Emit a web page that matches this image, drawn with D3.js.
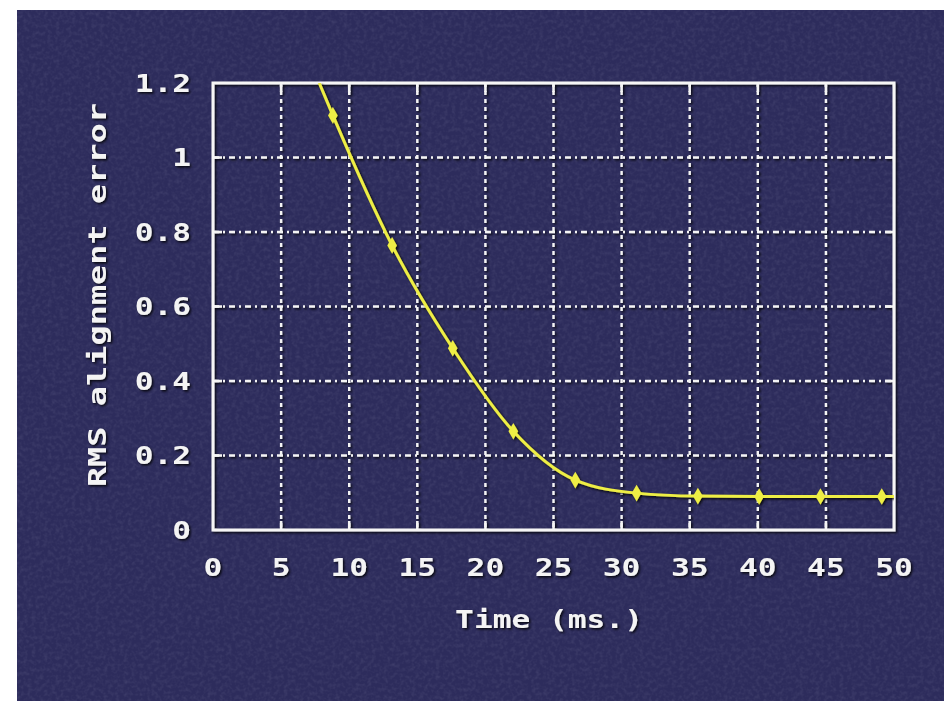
<!DOCTYPE html>
<html><head><meta charset="utf-8">
<script src="https://cdn.jsdelivr.net/npm/d3@7"></script>
<style>
html,body{margin:0;padding:0;background:#fff;}
svg{display:block;}
</style></head>
<body>
<script>
// ---- data ----
const xTicks = [0,5,10,15,20,25,30,35,40,45,50];
const yTicks = [0,0.2,0.4,0.6,0.8,1,1.2];
const yTickLabels = ["0","0.2","0.4","0.6","0.8","1","1.2"];
const xTickLabels = ["0","5","10","15","20","25","30","35","40","45","50"];
const markerX = [8.8,13.15,17.6,22.05,26.6,31.1,35.6,40.1,44.6,49.1];
const markerY = [1.113,0.764,0.488,0.265,0.134,0.099,0.091,0.09,0.09,0.09];
const lineX = [7.8,8.8,13.15,17.6,22.05,26.6,31.1,35.6,40.1,44.6,49.1,50];
const lineY = [1.2,1.113,0.764,0.488,0.265,0.134,0.099,0.091,0.09,0.09,0.09,0.09];
const xTitle = "Time (ms.)";
const yTitle = "RMS alignment error";

const W=944,H=701;
const svg=d3.select("body").append("svg").attr("width",W).attr("height",H);
const defs=svg.append("defs");
const sh=defs.append("filter").attr("id","sh").attr("x","-20%").attr("y","-20%").attr("width","140%").attr("height","140%");
sh.append("feDropShadow").attr("dx",1.5).attr("dy",1.5).attr("stdDeviation",0.8).attr("flood-color","#000").attr("flood-opacity",0.85);
const tex=defs.append("filter").attr("id","tex").attr("x",0).attr("y",0).attr("width","100%").attr("height","100%");
tex.append("feTurbulence").attr("type","fractalNoise").attr("baseFrequency",0.25).attr("numOctaves",2).attr("seed",5).attr("result","n");
tex.append("feColorMatrix").attr("in","n").attr("type","matrix")
  .attr("values","0 0 0 0 0.5  0 0 0 0 0.5  0 0 0 0 0.65  1 0 0 0 -0.4").attr("result","c");
tex.append("feComposite").attr("in","c").attr("in2","SourceGraphic").attr("operator","in");
const clip=defs.append("clipPath").attr("id","plotclip");

// background
svg.append("rect").attr("x",17).attr("y",10).attr("width",W-17).attr("height",H-10).attr("fill","#2d2c5c");
svg.append("rect").attr("x",17).attr("y",10).attr("width",W-17).attr("height",H-10).attr("fill","#2d2c5c").attr("filter","url(#tex)").attr("opacity",0.22);

const x=d3.scaleLinear().domain([0,50]).range([213,894]);
const y=d3.scaleLinear().domain([0,1.2]).range([530,83]);
clip.append("rect").attr("x",x(0)).attr("y",y(1.2)).attr("width",x(50)-x(0)).attr("height",y(0)-y(1.2));

const g=svg.append("g").attr("filter","url(#sh)");
// grid
g.selectAll(".vg").data(xTicks.slice(1,-1)).join("line")
  .attr("x1",d=>x(d)).attr("x2",d=>x(d)).attr("y1",y(1.2)).attr("y2",y(0))
  .attr("stroke","#f4f4f4").attr("stroke-width",2.4).attr("stroke-dasharray","4,4");
g.selectAll(".hg").data(yTicks.slice(1,-1)).join("line")
  .attr("y1",d=>y(d)).attr("y2",d=>y(d)).attr("x1",x(0)).attr("x2",x(50))
  .attr("stroke","#f4f4f4").attr("stroke-width",2.4).attr("stroke-dasharray","6,4,2,4");
// inner ticks
const tl=9;
xTicks.slice(1,-1).forEach(d=>{
  g.append("line").attr("x1",x(d)).attr("x2",x(d)).attr("y1",y(0)).attr("y2",y(0)-tl).attr("stroke","#f4f4f4").attr("stroke-width",2.5);
  g.append("line").attr("x1",x(d)).attr("x2",x(d)).attr("y1",y(1.2)).attr("y2",y(1.2)+tl).attr("stroke","#f4f4f4").attr("stroke-width",2.5);
});
yTicks.slice(1,-1).forEach(d=>{
  g.append("line").attr("y1",y(d)).attr("y2",y(d)).attr("x1",x(0)).attr("x2",x(0)+tl).attr("stroke","#f4f4f4").attr("stroke-width",2.5);
  g.append("line").attr("y1",y(d)).attr("y2",y(d)).attr("x1",x(50)).attr("x2",x(50)-tl).attr("stroke","#f4f4f4").attr("stroke-width",2.5);
});
// frame
g.append("rect").attr("x",x(0)).attr("y",y(1.2)).attr("width",x(50)-x(0)).attr("height",y(0)-y(1.2))
  .attr("fill","none").attr("stroke","#f6f6f6").attr("stroke-width",3);

// line
const pts=lineX.map((v,i)=>[v,lineY[i]]);
const lg=svg.append("g").attr("clip-path","url(#plotclip)").attr("filter","url(#sh)");
lg.append("path").datum(pts)
  .attr("d",d3.line().x(d=>x(d[0])).y(d=>y(d[1])).curve(d3.curveMonotoneX))
  .attr("fill","none").attr("stroke","#eeee44").attr("stroke-width",3);
const mk=markerX.map((v,i)=>[v,markerY[i]]);
lg.selectAll(".m").data(mk).join("path")
  .attr("transform",d=>`translate(${x(d[0])},${y(d[1])})`)
  .attr("d",d3.symbol().type(d3.symbolDiamond).size(80))
  .attr("fill","#eeee44");

// labels
const font="'DejaVu Sans Mono', monospace";
const sx=1.3;
const tg=svg.append("g").attr("filter","url(#sh)").attr("fill","#f4f4f4")
  .attr("font-family",font).attr("font-weight","bold").attr("font-size",24);
tg.selectAll(".yl").data(yTicks).join("text")
  .attr("transform",d=>`translate(191,${y(d)}) scale(${sx},1)`).attr("dy","0.36em").attr("text-anchor","end")
  .text((d,i)=>yTickLabels[i]);
tg.selectAll(".xl").data(xTicks).join("text")
  .attr("transform",d=>`translate(${x(d)},567) scale(${sx},1)`).attr("dy","0.36em").attr("text-anchor","middle")
  .text((d,i)=>xTickLabels[i]);
tg.append("text").attr("transform",`translate(549,619) scale(${sx},1)`).attr("dy","0.36em").attr("text-anchor","middle").text(xTitle);
tg.append("text").attr("transform",`translate(97,295) rotate(-90) scale(1.4,1)`).attr("dy","0.36em").attr("text-anchor","middle").text(yTitle);
</script>
</body></html>
